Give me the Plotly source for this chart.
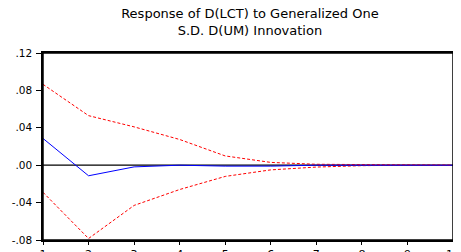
import plotly.graph_objects as go

periods = [1, 2, 3, 4, 5, 6, 7, 8, 9, 10]
response = [0.0286, -0.0113, -0.0018, 0.0, -0.001, -0.001, 0.0, 0.0, 0.0, 0.0]
upper = [0.0865, 0.053, 0.041, 0.0275, 0.0099, 0.003, 0.001, 0.0005, 0.0, 0.0]
lower = [-0.029, -0.0784, -0.043, -0.026, -0.012, -0.005, -0.002, -0.0005, 0.0, 0.0]
ytick_vals = [-0.08, -0.04, 0.0, 0.04, 0.08, 0.12]
ytick_text = ["-.08", "-.04", ".00", ".04", ".08", ".12"]
title = "Response of D(LCT) to Generalized One<br>S.D. D(UM) Innovation"

fig = go.Figure()
fig.add_trace(go.Scatter(x=[1, 10], y=[0, 0], mode="lines",
                         line=dict(color="black", width=1.3), hoverinfo="skip"))
fig.add_trace(go.Scatter(x=periods, y=upper, mode="lines",
                         line=dict(color="red", width=1, dash="3px,2px")))
fig.add_trace(go.Scatter(x=periods, y=lower, mode="lines",
                         line=dict(color="red", width=1, dash="3px,2px")))
fig.add_trace(go.Scatter(x=periods, y=response, mode="lines",
                         line=dict(color="blue", width=1)))

# frame around the plotting area
fig.add_shape(type="rect", xref="paper", yref="paper", x0=0, y0=0, x1=1, y1=1,
              line=dict(color="black", width=1.5), fillcolor="rgba(0,0,0,0)",
              layer="above")

# page body has an 8px default margin; figure is sized/offset to compensate
fig.update_layout(
    width=453, height=244,
    margin=dict(l=35, r=8, t=45, b=12),
    paper_bgcolor="white", plot_bgcolor="white",
    showlegend=False,
    title=dict(text=title, x=0.534, xanchor="center", y=0.96, yanchor="top",
               font=dict(family="DejaVu Sans", size=13, color="black")),
    font=dict(family="DejaVu Sans", size=10, color="black"),
)
fig.update_xaxes(range=[1, 10], tickvals=periods, ticks="outside", ticklen=3,
                 tickcolor="black", automargin=False, showgrid=False,
                 zeroline=False, showline=True, linecolor="black", linewidth=1.5,
                 mirror=True, tickfont=dict(size=11))
fig.update_yaxes(range=[-0.08, 0.12], tickvals=ytick_vals, ticktext=ytick_text,
                 ticks="outside", ticklen=5, tickcolor="black", automargin=False,
                 showgrid=False, zeroline=False, showline=True, linecolor="black",
                 linewidth=1.5, mirror=True, tickfont=dict(size=10.5),
                 ticklabelstandoff=2)

fig.write_html("out.html")
